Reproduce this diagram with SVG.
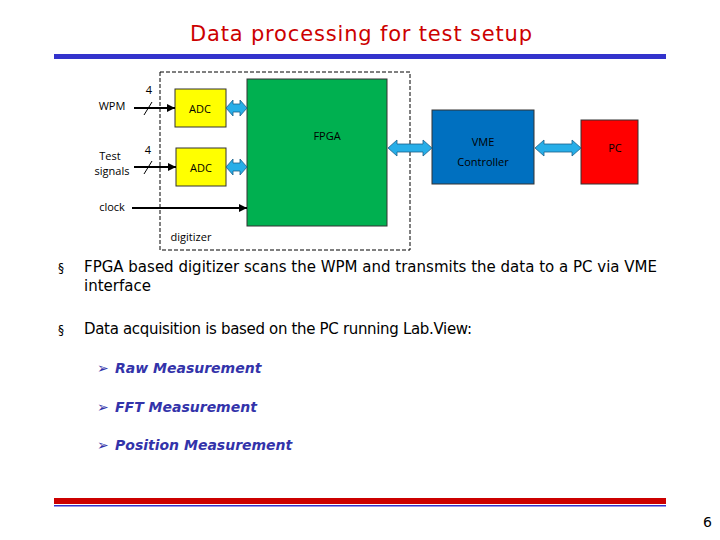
<svg xmlns="http://www.w3.org/2000/svg" width="720" height="540" viewBox="0 0 720 540">
<defs>
<marker id="ah" viewBox="0 0 10 10" refX="10" refY="5" markerWidth="4" markerHeight="4" orient="auto"><path d="M0,0L10,5L0,10z" fill="#000"/></marker>
<style>
.t{font-family:"Open Sans","Liberation Sans",sans-serif;font-size:11px}
.c{font-family:"DejaVu Sans",sans-serif;font-size:15px}
.b{fill:#27aee8;stroke:#1a5f8a;stroke-width:0.8}
.w{stroke:#000;stroke-width:2;marker-end:url(#ah)}
.m{font-family:"DejaVu Sans",sans-serif;font-size:14px;font-style:italic;fill:#3333aa;font-weight:bold}
</style>
</defs>
<rect width="720" height="540" fill="#fff"/>
<text x="190" y="41" textLength="342" font-family="DejaVu Sans, sans-serif" font-size="21" fill="#cc0000">Data processing for test setup</text>
<rect x="54" y="54" width="612" height="5" fill="#3333cc"/>
<rect x="54" y="498" width="612" height="6" fill="#cc0000"/>
<rect x="54" y="505" width="612" height="1.5" fill="#3333cc"/>
<text x="712" y="527" text-anchor="end" font-family="DejaVu Sans, sans-serif" font-size="14">6</text>
<rect x="160" y="72" width="250" height="178" fill="none" stroke="#000" stroke-dasharray="4,2"/>
<g id="fpga"><rect x="247" y="79" width="140" height="147" fill="#00b050" stroke="#333"/><text class="t" x="327" y="140" text-anchor="middle" font-size="14">FPGA</text></g>
<g id="adc1"><rect x="175" y="89" width="51" height="38" fill="#ffff00" stroke="#333"/><text class="t" x="200" y="113" text-anchor="middle" font-size="15">ADC</text></g>
<g id="adc2"><rect x="176" y="148" width="50" height="38" fill="#ffff00" stroke="#333"/><text class="t" x="201" y="172" text-anchor="middle" font-size="15">ADC</text></g>
<g id="vme"><rect x="432" y="110" width="102" height="74" fill="#0070c0" stroke="#333"/><text class="t" x="483" y="146" text-anchor="middle" font-size="14">VME</text><text class="t" x="483" y="166" text-anchor="middle" font-size="14">Controller</text></g>
<g id="pc"><rect x="581" y="120" width="57" height="64" fill="#ff0000" stroke="#333"/><text class="t" x="615" y="152" text-anchor="middle" font-size="14">PC</text></g>
<text class="t" x="112" y="110" text-anchor="middle">WPM</text>
<text class="t" x="110" y="160" text-anchor="middle">Test</text>
<text class="t" x="112" y="175" text-anchor="middle">signals</text>
<text class="t" x="112" y="211" text-anchor="middle">clock</text>
<text class="t" x="191" y="241" text-anchor="middle">digitizer</text>
<text class="t" x="149" y="94" text-anchor="middle" font-size="12">4</text>
<text class="t" x="148" y="154" text-anchor="middle" font-size="12">4</text>
<g id="connectors">
<line class="w" x1="134" y1="108" x2="175" y2="108"/>
<line x1="144" y1="115" x2="152" y2="102" stroke="#000"/>
<line class="w" x1="134" y1="167" x2="176" y2="167"/>
<line x1="144" y1="174" x2="152" y2="161" stroke="#000"/>
<line class="w" x1="132" y1="208" x2="247" y2="208"/>
<path class="b" d="M226,108 l7,-8 v4 h7 v-4 l7,8 l-7,8 v-4 h-7 v4z"/>
<path class="b" d="M226,167 l7,-8 v4 h7 v-4 l7,8 l-7,8 v-4 h-7 v4z"/>
<path class="b" d="M388,148 l9,-8 v4 h26 v-4 l9,8 l-9,8 v-4 h-26 v4z"/>
<path class="b" d="M535,148 l9,-8 v4 h28 v-4 l9,8 l-9,8 v-4 h-28 v4z"/>
</g>
<text x="58" y="272" font-size="12" font-family="DejaVu Sans">§</text>
<text class="c" x="84" y="272" textLength="573">FPGA based digitizer scans the WPM and transmits the data to a PC via VME</text>
<text class="c" x="84" y="291">interface</text>
<text x="58" y="334" font-size="12" font-family="DejaVu Sans">§</text>
<text class="c" x="84" y="334" textLength="388">Data acquisition is based on the PC running Lab.View:</text>
<text class="m" x="97" y="373">➢ <tspan x="115">Raw Measurement</tspan></text>
<text class="m" x="97" y="412">➢ <tspan x="115">FFT Measurement</tspan></text>
<text class="m" x="97" y="450">➢ <tspan x="115">Position Measurement</tspan></text>
</svg>
